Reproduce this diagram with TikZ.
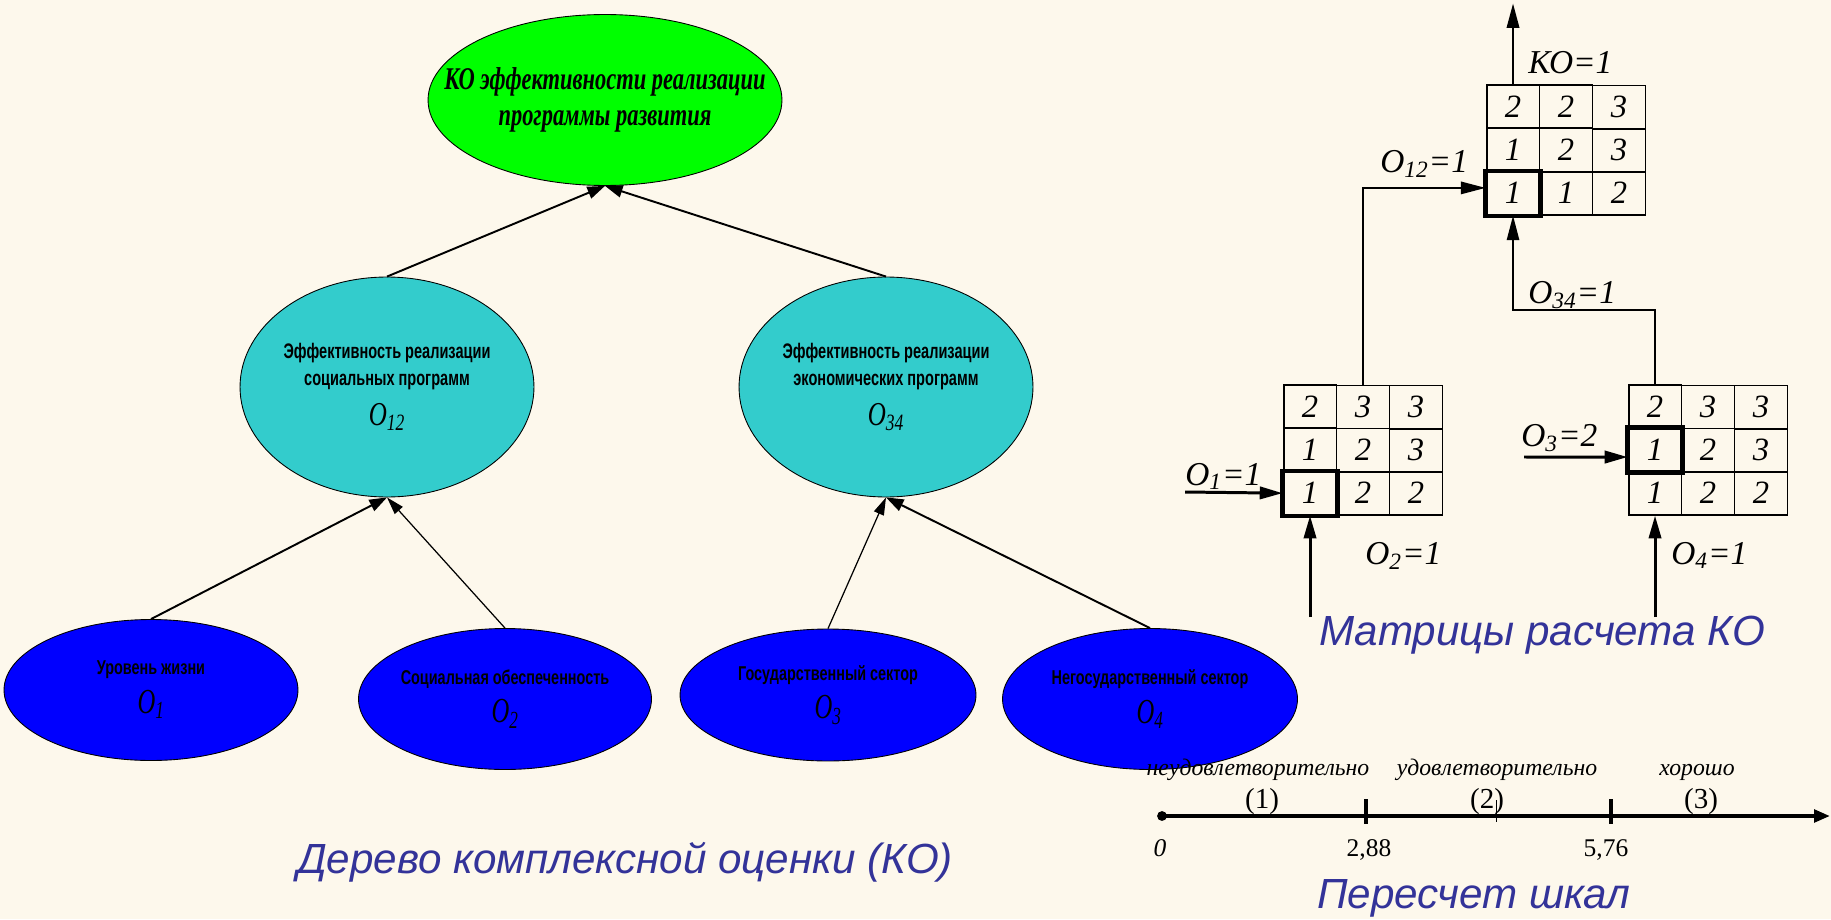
\documentclass[tikz,border=0pt]{standalone}
\usepackage{fontspec}
\usepackage{graphicx}
\setmainfont{Liberation Serif}
\setsansfont{Liberation Sans}
\usetikzlibrary{shapes.geometric,arrows.meta,matrix}

\definecolor{paper}{HTML}{FDF8EC}
\definecolor{kogreen}{HTML}{00FF00}
\definecolor{midcyan}{HTML}{33CCCC}
\definecolor{leafblue}{HTML}{0000FF}
\definecolor{capblue}{HTML}{333399}

\newcommand{\narrow}[2]{\scalebox{#1}[1]{#2}}

\tikzset{
  oval/.style={ellipse,draw=black,line width=0.5pt,inner sep=0pt},
  toptext/.style={font=\fontsize{18}{20.5}\selectfont\bfseries\itshape,align=center},
  midtext/.style={font=\fontsize{12}{15.4}\selectfont\sffamily\bfseries,align=center},
  leaftext/.style={font=\fontsize{11.4}{22}\selectfont\sffamily\bfseries,align=center},
  treearr/.style={line width=1.1pt,-{Triangle[length=10pt,width=7pt]}},
  thinarr/.style={line width=0.7pt,-{Triangle[length=10pt,width=6pt]}},
  kmat/.style={matrix of nodes,column sep=-1.1pt,row sep=-1.1pt,
    nodes={draw,line width=1.1pt,minimum width=1.06cm,minimum height=0.86cm,
      inner sep=0pt,font=\fontsize{18.5}{18.5}\selectfont\itshape}},
  hotcell/.style={line width=2.4pt},
  marr/.style={line width=1.7pt,-{Triangle[length=13pt,width=7pt]}},
  link/.style={line width=1.1pt,-{Triangle[length=14pt,width=7pt]}},
  mlab/.style={font=\fontsize{19}{19}\selectfont\itshape,anchor=base west,inner sep=0pt},
  scl/.style={font=\fontsize{13.5}{14}\selectfont\itshape,anchor=base,inner sep=0pt},
  scalenum/.style={font=\fontsize{14.5}{15}\selectfont,anchor=base,inner sep=0pt},
  headline/.style={font=\fontsize{24}{26}\selectfont\sffamily\itshape,text=capblue,
    anchor=base,inner sep=0pt}
}

\begin{document}
\begin{tikzpicture}[x=0.02cm,y=-0.02cm]
\fill[paper] (0,0) rectangle (1831,919);
\useasboundingbox (0,0) rectangle (1831,919);

% tree
\node[oval,fill=kogreen,minimum width=7.08cm,minimum height=3.42cm] (ko) at (605,100) {};
\node[toptext] (ko-t) at (ko) {\narrow{0.71}{КО эффективности реализации}\\\narrow{0.71}{программы развития}};

\node[oval,fill=midcyan,minimum width=5.88cm,minimum height=4.4cm] (o12) at (387,387) {};
\node[midtext] (o12-t) at (o12) {\narrow{0.69}{Эффективность реализации}\\\narrow{0.69}{социальных программ}\\[7pt]
  {\fontsize{19}{19}\selectfont\rmfamily\mdseries\itshape\narrow{0.75}{O\textsubscript{12}}}};
\node[oval,fill=midcyan,minimum width=5.88cm,minimum height=4.4cm] (o34) at (886,387) {};
\node[midtext] (o34-t) at (o34) {\narrow{0.69}{Эффективность реализации}\\\narrow{0.69}{экономических программ}\\[7pt]
  {\fontsize{19}{19}\selectfont\rmfamily\mdseries\itshape\narrow{0.75}{O\textsubscript{34}}}};

\node[oval,fill=leafblue,minimum width=5.88cm,minimum height=2.82cm] (o1) at (151,690) {};
\node[leaftext] (o1-t) at (o1) {\narrow{0.72}{Уровень жизни}\\
  {\fontsize{20}{20}\selectfont\rmfamily\mdseries\itshape\narrow{0.7}{O\textsubscript{1}}}};
\node[oval,fill=leafblue,minimum width=5.86cm,minimum height=2.82cm] (o2) at (505,699) {};
\node[leaftext] (o2-t) at (o2) {\narrow{0.72}{Социальная обеспеченность}\\
  {\fontsize{20}{20}\selectfont\rmfamily\mdseries\itshape\narrow{0.7}{O\textsubscript{2}}}};
\node[oval,fill=leafblue,minimum width=5.92cm,minimum height=2.64cm] (o3) at (828,695) {};
\node[leaftext] (o3-t) at (o3) {\narrow{0.72}{Государственный сектор}\\
  {\fontsize{20}{20}\selectfont\rmfamily\mdseries\itshape\narrow{0.7}{O\textsubscript{3}}}};
\node[oval,fill=leafblue,minimum width=5.9cm,minimum height=2.82cm] (o4) at (1150,699) {};
\node[leaftext] (o4-t) at (o4) {\narrow{0.72}{Негосударственный сектор}\\
  {\fontsize{20}{20}\selectfont\rmfamily\mdseries\itshape\narrow{0.7}{O\textsubscript{4}}}};

\draw[treearr] (o12.north) -- (ko.south);
\draw[treearr] (o34.north) -- (ko.south);
\draw[treearr] (o1.north) -- (o12.south);
\draw[thinarr] (o2.north) -- (o12.south);
\draw[thinarr] (o3.north) -- (o34.south);
\draw[treearr] (o4.north) -- (o34.south);

\node[headline] (tree-cap) at (625,873) {Дерево комплексной оценки (КО)};

% matrices
\matrix[kmat] (mtop) at (1566,150) {2 & 2 & 3\\ 1 & 2 & 3\\ 1 & 1 & 2\\};
\matrix[kmat] (mleft) at (1363,450) {2 & 3 & 3\\ 1 & 2 & 3\\ 1 & 2 & 2\\};
\matrix[kmat] (mright) at (1708,450) {2 & 3 & 3\\ 1 & 2 & 3\\ 1 & 2 & 2\\};
\draw[hotcell] (mtop-3-1.north west) rectangle (mtop-3-1.south east);
\draw[hotcell] (mleft-3-1.north west) rectangle (mleft-3-1.south east);
\draw[hotcell] (mright-2-1.north west) rectangle (mright-2-1.south east);

\coordinate (o1in) at (1185,492);
\coordinate (o2in) at (mleft-3-1.south |- 0,617);
\coordinate (o3in) at (1524,457);
\coordinate (o4in) at (mright-3-1.south |- 0,617);
\draw[marr] (o1in) -- (mleft-3-1.west);
\draw[marr] (o2in) -- (mleft-3-1.south);
\draw[marr] (o3in) -- ([yshift=-4pt]mright-2-1.west);
\draw[marr] (o4in) -- (mright-3-1.south);
\draw[link] (mleft-1-2.north) |- ([yshift=3pt]mtop-3-1.west);
\draw[link] (mright-1-1.north) -- ++(0,-74) -| (mtop-3-1.south);
\draw[link,line width=1.5pt] (mtop-1-1.north) -- ++(0,-81) coordinate (kotip);

\node[mlab] (ko-l) at (1528,73) {КО=1};
\node[mlab] (o12-l) at (1380,172) {O\textsubscript{12}=1};
\node[mlab] (o34-l) at (1528,303) {O\textsubscript{34}=1};
\node[mlab] (o1-l) at (1185,485) {O\textsubscript{1}=1};
\node[mlab] (o2-l) at (1365,564) {O\textsubscript{2}=1};
\node[mlab] (o3-l) at (1521,446) {O\textsubscript{3}=2};
\node[mlab] (o4-l) at (1671,564) {O\textsubscript{4}=1};

\node[headline] (mat-cap) at (1542,645) {Матрицы расчета КО};

% scale
\node[circle,fill,inner sep=0pt,minimum size=5.6pt] (zero) at (1162,816) {};
\coordinate (axend) at (1830,816);
\draw[line width=2.2pt,-{Triangle[length=9pt,width=7pt]}] (zero.center) -- (axend);
\draw[line width=1.8pt] (1366,799) -- (1366,824);
\draw[line width=1.8pt] (1611,799) -- (1611,824);
\draw[line width=0.4pt] (1496,800) -- (1496,822);

\node[scl] (bad) at (1258,775) {неудовлетворительно};
\node[scl] (fair) at (1497,775) {удовлетворительно};
\node[scl] (good) at (1697,775) {хорошо};
\node[scalenum,font=\fontsize{16.5}{16.5}\selectfont] (g1) at (1262,808) {(1)};
\node[scalenum,font=\fontsize{16.5}{16.5}\selectfont] (g2) at (1487,808) {(2)};
\node[scalenum,font=\fontsize{16.5}{16.5}\selectfont] (g3) at (1701,808) {(3)};
\node[scalenum,font=\fontsize{14.5}{15}\selectfont\itshape] (v0) at (1160,856) {0};
\node[scalenum] (v1) at (1369,856) {2,88};
\node[scalenum] (v2) at (1606,856) {5,76};

\node[headline] (scale-cap) at (1474,908) {Пересчет шкал};
\end{tikzpicture}
\end{document}
